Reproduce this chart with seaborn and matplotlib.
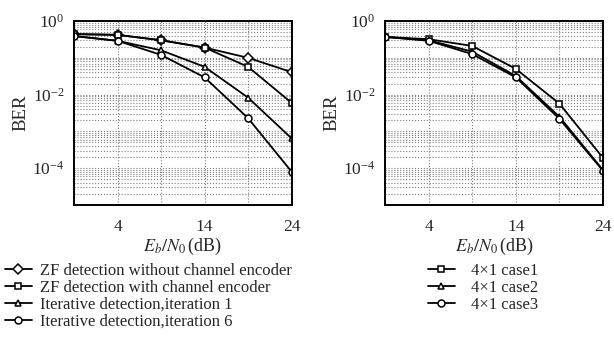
import matplotlib
matplotlib.use("Agg")
import matplotlib.pyplot as plt
import matplotlib.ticker as mticker
import numpy as np
import pandas as pd
import seaborn as sns

# Eb/N0 (dB)
snr = [-1, 4, 9, 14, 19, 24]

# left panel
left_names = [
    "ZF detection without channel encoder",
    "ZF detection with channel encoder",
    "Iterative detection,iteration 1",
    "Iterative detection,iteration 6",
]
zf_no_code = [0.44, 0.42, 0.30, 0.19, 0.10, 0.041]
zf_code = [0.44, 0.42, 0.30, 0.19, 0.057, 0.006]
iter_1 = [0.39, 0.29, 0.16, 0.057, 0.0083, 6.5e-4]
iter_6 = [0.39, 0.29, 0.12, 0.0295, 0.0023, 8.1e-5]

# right panel
right_names = ["4\u00d71 case1", "4\u00d71 case2", "4\u00d71 case3"]
case1 = [0.37, 0.32, 0.21, 0.05, 0.0057, 1.9e-4]
case2 = [0.37, 0.30, 0.147, 0.032, 0.0025, 8.9e-5]
case3 = [0.37, 0.29, 0.126, 0.0295, 0.0022, 8.5e-5]

left_markers = ["D", "s", "^", "o"]
right_markers = ["s", "^", "o"]


def long_frame(names, series):
    rows = {"snr": [], "ber": [], "scheme": []}
    for name, vals in zip(names, series):
        rows["snr"].extend(snr)
        rows["ber"].extend(vals)
        rows["scheme"].extend([name] * len(snr))
    return pd.DataFrame(rows)


sns.set_style("white")
plt.rcParams["font.family"] = ["Liberation Serif", "DejaVu Serif"]
plt.rcParams["mathtext.fontset"] = "stix"

fig = plt.figure(figsize=(6.14, 3.51), dpi=100)
W, H = 614, 351
ax_l = fig.add_axes([74 / W, (H - 205) / H, 217.5 / W, 184 / H])
ax_r = fig.add_axes([385 / W, (H - 205) / H, 218 / W, 184 / H])

legend_handles = []
for ax, names, series, marks in [
    (ax_l, left_names, [zf_no_code, zf_code, iter_1, iter_6], left_markers),
    (ax_r, right_names, [case1, case2, case3], right_markers),
]:
    df = long_frame(names, series)
    sns.lineplot(data=df, x="snr", y="ber", hue="scheme", style="scheme",
                 hue_order=names, style_order=names,
                 palette=["black"] * len(names),
                 markers=dict(zip(names, marks)), dashes=False,
                 linewidth=1.3, markersize=5, markerfacecolor="white",
                 markeredgecolor="black", markeredgewidth=1.1,
                 ax=ax)
    legend_handles.append((ax.legend_.legend_handles, names))
    ax.legend_.remove()

    ax.set_yscale("log")
    ax.set_xlim(-1, 24)
    ax.set_ylim(1e-5, 1)
    ax.set_xticks([4, 9, 14, 19, 24])
    ax.set_xticklabels(["4", "", "14", "", "24"])
    ax.yaxis.set_major_locator(mticker.FixedLocator([1e0, 1e-2, 1e-4]))
    ax.yaxis.set_major_formatter(mticker.LogFormatterSciNotation())
    ax.yaxis.set_minor_locator(mticker.LogLocator(base=10, subs=np.arange(1, 10), numticks=20))
    ax.yaxis.set_minor_formatter(mticker.NullFormatter())
    ax.grid(True, which="both", axis="y", color="#808080", linestyle=":", linewidth=0.8)
    ax.grid(True, which="major", axis="x", color="#808080", linestyle=":", linewidth=0.8)
    ax.tick_params(axis="both", which="major", direction="in", length=3, width=1,
                   labelsize=12.5, color="black")
    ax.tick_params(axis="x", which="major", pad=10)
    ax.tick_params(axis="y", which="major", pad=7)
    ax.tick_params(axis="y", which="minor", length=0)
    for s in ax.spines.values():
        s.set_color("black")
        s.set_linewidth(1.4)
    ax.set_xlabel(r"$E_b/N_0\,$(dB)", fontsize=13, labelpad=1)
    ax.set_ylabel("BER", fontsize=13.5, labelpad=2)

(h_l, n_l), (h_r, n_r) = legend_handles
fig.legend(h_l, n_l, loc="upper left", bbox_to_anchor=(5 / W, 1 - 263 / H),
           frameon=False, fontsize=12, handlelength=1.6, handletextpad=0.5,
           labelspacing=0.06, borderpad=0, borderaxespad=0)
fig.legend(h_r, n_r, loc="upper left", bbox_to_anchor=(428 / W, 1 - 263 / H),
           frameon=False, fontsize=12, handlelength=1.6, handletextpad=1.0,
           labelspacing=0.06, borderpad=0, borderaxespad=0)

fig.savefig("out.png", dpi=100)
